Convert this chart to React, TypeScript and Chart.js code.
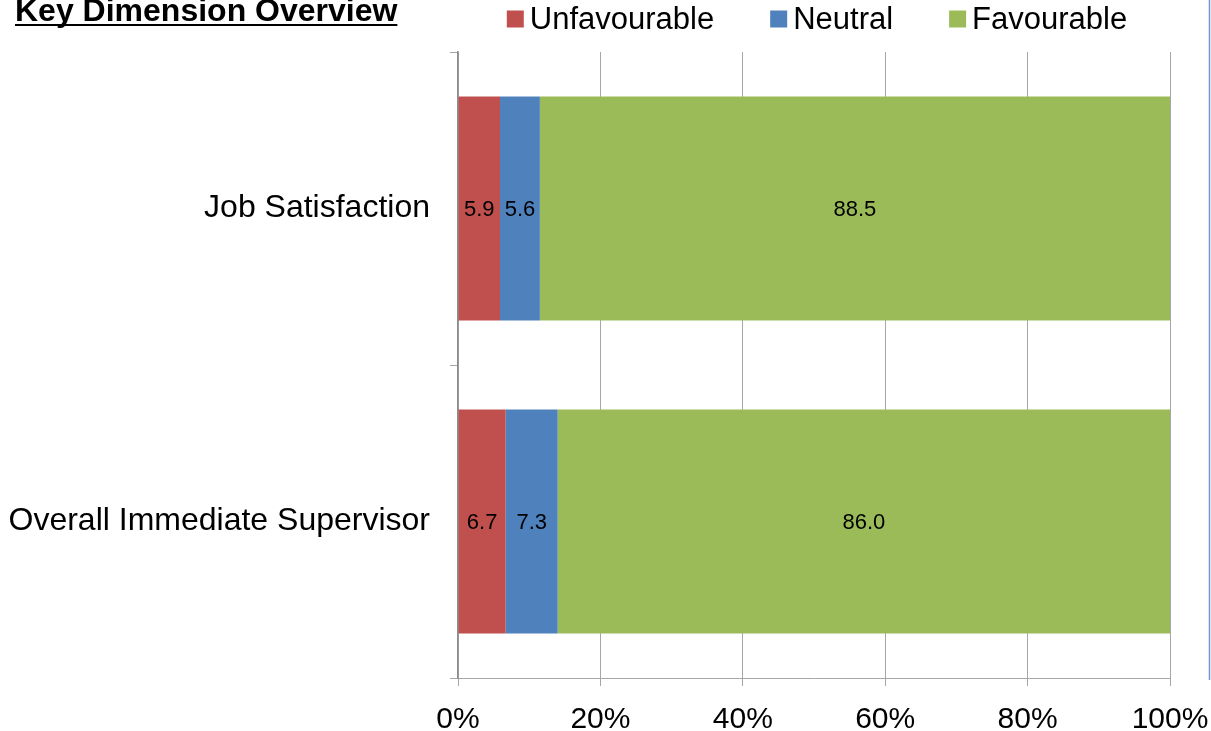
import React, { useEffect, useRef } from "react";
import { Chart, registerables } from "chart.js";

Chart.register(...registerables);

const categories = ["Job Satisfaction", "Overall Immediate Supervisor"];
const unfavourable = [5.9, 6.7];
const neutral = [5.6, 7.3];
const favourable = [88.5, 86.0];
const seriesNames = ["Unfavourable", "Neutral", "Favourable"];
const seriesColors = ["#C0504D", "#4F81BD", "#9BBB59"];
const xTickValues = [0, 20, 40, 60, 80, 100];
const titleText = "Key Dimension Overview";

const FONT = "'Liberation Sans', Arial, sans-serif";

const decorPlugin = {
  id: "decor",
  afterDraw(chart: any) {
    const ctx = chart.ctx;
    ctx.save();
    // title
    ctx.font = `bold 32px ${FONT}`;
    ctx.fillStyle = "#000";
    ctx.textBaseline = "alphabetic";
    ctx.textAlign = "left";
    ctx.fillText(titleText, 15, 21);
    const tw = ctx.measureText(titleText).width;
    ctx.fillRect(15, 24, tw, 2);
    // legend
    ctx.font = `31px ${FONT}`;
    const sq = 17;
    const gapText = 6;
    const gapItem = 56;
    const widths = chart.data.datasets.map((d: any) => ctx.measureText(d.label).width);
    const total = widths.reduce((a: number, w: number) => a + w + sq + gapText, 0) + gapItem * (widths.length - 1);
    let x = 817 - total / 2;
    const cy = 19;
    ctx.textBaseline = "middle";
    chart.data.datasets.forEach((d: any, i: number) => {
      ctx.fillStyle = d.backgroundColor;
      ctx.fillRect(x, cy - sq / 2, sq, sq);
      x += sq + gapText;
      ctx.fillStyle = "#000";
      ctx.fillText(d.label, x, cy + 1);
      x += widths[i] + gapItem;
    });
    // right blue frame line
    ctx.strokeStyle = "#7096CC";
    ctx.lineWidth = 1.5;
    ctx.beginPath();
    ctx.moveTo(1209.5, 0);
    ctx.lineTo(1209.5, 680);
    ctx.stroke();
    ctx.restore();
  },
  afterDatasetsDraw(chart: any) {
    const ctx = chart.ctx;
    ctx.save();
    ctx.font = `22px ${FONT}`;
    ctx.fillStyle = "#000";
    ctx.textAlign = "center";
    ctx.textBaseline = "middle";
    chart.data.datasets.forEach((d: any, di: number) => {
      const meta = chart.getDatasetMeta(di);
      meta.data.forEach((el: any, i: number) => {
        const p = el.getCenterPoint();
        ctx.fillText(Number(d.data[i]).toFixed(1), p.x, p.y + 1);
      });
    });
    ctx.restore();
  },
};

export default function App() {
  const ref = useRef<HTMLCanvasElement>(null);
  useEffect(() => {
    if (!ref.current) return;
    const seriesData = [unfavourable, neutral, favourable];
    const chart = new Chart(ref.current, {
      type: "bar",
      data: {
        labels: categories,
        datasets: seriesNames.map((name, i) => ({
          label: name,
          data: seriesData[i],
          backgroundColor: seriesColors[i],
          borderWidth: 0,
          barPercentage: 0.716,
          categoryPercentage: 1,
        })),
      },
      options: {
        indexAxis: "y",
        animation: false,
        responsive: false,
        devicePixelRatio: 1,
        layout: { padding: { top: 52, right: 41, left: 0, bottom: 0 } },
        plugins: {
          legend: { display: false },
          title: { display: false },
          tooltip: { enabled: false },
        },
        scales: {
          x: {
            type: "linear",
            stacked: true,
            min: 0,
            max: 100,
            afterBuildTicks: (s: any) => {
              s.ticks = xTickValues.map((v) => ({ value: v }));
            },
            ticks: {
              callback: (v: any) => v + "%",
              color: "#000",
              font: { size: 30, family: FONT },
              padding: 16,
              maxRotation: 0,
            },
            grid: { color: "#A6A6A6", tickLength: 8, lineWidth: 1 },
            border: { color: "#A6A6A6" },
            afterFit: (s: any) => {
              s.height = 53;
              s.paddingLeft = 0;
              s.paddingRight = 0;
              s.paddingTop = 0;
              s.paddingBottom = 0;
            },
          },
          y: {
            type: "category",
            stacked: true,
            grid: { offset: true, drawOnChartArea: false, tickLength: 8, color: "#A6A6A6" },
            border: { color: "#8C8C8C", width: 1.5 },
            ticks: {
              color: "#000",
              font: { size: 32, family: FONT },
              padding: 20,
            },
            afterFit: (s: any) => {
              s.width = 458;
              s.paddingTop = 0;
              s.paddingBottom = 0;
            },
          },
        },
      },
      plugins: [decorPlugin],
    } as any);
    return () => chart.destroy();
  }, []);
  return (
    <div style={{ position: "absolute", left: 0, top: 0, width: 1211, height: 731, background: "#fff" }}>
      <canvas ref={ref} width={1211} height={731} style={{ display: "block" }} />
    </div>
  );
}
